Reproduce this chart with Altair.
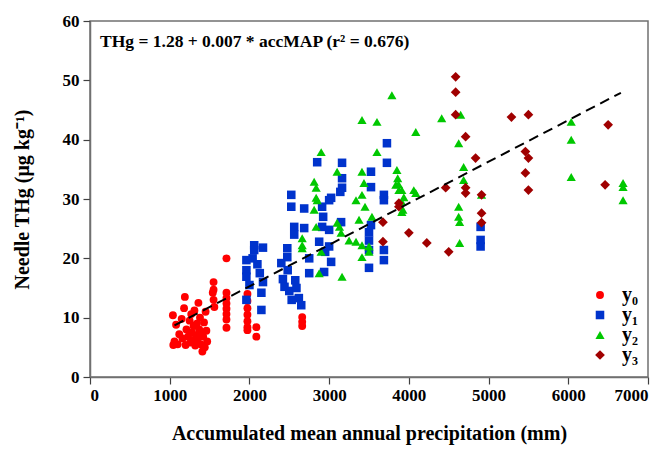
import altair as alt
import pandas as pd

# ---- data ----
y0_x = [1040, 1045, 1060, 1080, 1100, 1120, 1150, 1160, 1180, 1190, 1200, 1210, 1230, 1250, 1260,
        1270, 1280, 1290, 1300, 1310, 1320, 1330, 1340, 1350, 1360, 1370, 1380, 1390, 1400, 1410,
        1420, 1430, 1440, 1450, 1460, 1470, 1540, 1550, 1550, 1550, 1560, 1712, 1712, 1712, 1712,
        1712, 1712, 1712, 1712, 1975, 1975, 1975, 1975, 1975, 1975, 1975, 2087, 2087, 2662, 2662, 2662]
y0_y = [10.4, 5.4, 6.0, 8.8, 5.5, 7.2, 9.8, 6.5, 11.6, 13.5, 5.4, 8.0, 6.8, 9.5, 5.8,
        10.6, 7.5, 6.2, 8.6, 11.2, 5.3, 7.0, 9.0, 6.4, 12.5, 8.0, 10.0, 5.5, 7.4, 4.3,
        6.8, 9.2, 5.0, 11.0, 7.8, 6.0, 14.2, 16.0, 14.7, 13.0, 11.8, 20.0, 14.2, 13.3, 12.4,
        11.5, 10.6, 9.7, 8.3, 14.0, 12.8, 11.6, 10.5, 9.4, 8.4, 7.9, 8.4, 6.8, 10.1, 9.3, 8.6]

y1_x = [1962, 1962, 1962, 1962, 2000, 2060, 2060, 2040, 2100, 2150, 2150, 2130, 2170, 2170,
        2400, 2420, 2440, 2475, 2475, 2480, 2500, 2525, 2525, 2530, 2562, 2562, 2575, 2590, 2620,
        2650, 2687, 2687, 2750, 2750, 2850, 2875, 2912, 2925, 2912, 2937, 2950, 3000, 3000, 3000,
        3025, 3025, 3150, 3162, 3162, 3162, 3140, 3500, 3500, 3500, 3500, 3525, 3525, 3525,
        3687, 3687, 3687, 3687, 3725, 3725, 4900, 4900, 4900]
y1_y = [19.7, 18.0, 16.9, 13.0, 15.5, 22.2, 21.4, 20.0, 19.0, 14.2, 11.3, 17.5, 21.8, 16.0,
        19.2, 16.5, 15.2, 21.7, 20.2, 18.0, 14.5, 30.7, 28.7, 13.0, 25.3, 24.0, 16.3, 15.0, 13.3,
        12.1, 28.4, 25.1, 20.0, 17.5, 36.2, 22.8, 28.7, 27.0, 25.3, 17.7, 21.1, 29.8, 24.8, 22.0,
        30.2, 19.4, 26.1, 36.1, 33.5, 31.9, 31.2, 24.4, 23.0, 21.4, 18.4, 34.6, 32.0, 25.6,
        30.7, 29.8, 21.4, 19.7, 39.4, 36.1, 25.3, 23.1, 22.0]

y2_x = [2662, 2662, 2662, 2812, 2837, 2837, 2850, 2812, 2837, 2875, 2900, 2900, 3100, 3100,
        3130, 3150, 3162, 3250, 3337, 3375, 3412, 3412, 3412, 3437, 3450, 3337, 3412, 3500,
        3500, 3412, 3537, 3600, 3600, 3787, 3850, 3860, 3837, 3870, 3875, 3912, 3937, 3912,
        3925, 3912, 4062, 4087, 4087, 4412, 4625, 4650, 4687, 4687, 4625, 4625, 4637, 4637,
        4912, 6037, 6037, 6037, 6687, 6687, 6687]
y2_y = [23.4, 22.2, 21.7, 32.9, 31.9, 30.2, 29.8, 28.2, 25.3, 17.5, 37.9, 21.1, 34.6, 26.0,
        25.3, 24.3, 16.9, 23.0, 29.8, 26.5, 43.3, 34.6, 30.7, 32.7, 28.7, 22.8, 22.2, 22.0,
        21.1, 20.2, 27.0, 43.0, 37.9, 47.5, 34.9, 33.5, 32.4, 32.5, 31.5, 31.5, 30.3, 29.5,
        28.2, 27.8, 31.5, 41.3, 31.0, 43.6, 39.4, 44.2, 35.4, 33.2, 28.7, 27.0, 26.1, 22.6,
        30.7, 43.0, 40.0, 33.7, 32.7, 32.0, 29.8]

y3_x = [3675, 3675, 3875, 3875, 4000, 4225, 4462, 4500, 4587, 4587, 4587, 4712, 4712, 4712,
        4837, 4912, 4912, 4912, 5287, 5500, 5462, 5500, 5462, 5500, 6500, 6462]
y3_y = [26.1, 22.8, 29.3, 28.7, 24.3, 22.6, 31.9, 21.1, 50.6, 48.0, 44.2, 40.5, 31.9, 31.0,
        36.9, 30.7, 27.6, 26.0, 43.8, 44.2, 38.0, 36.9, 34.4, 31.5, 42.5, 32.4]

series_names = ["y₀", "y₁", "y₂", "y₃"]
series_colors = ["#FF0000", "#0033CC", "#00C800", "#A00000"]
series_shapes = ["circle", "square", "triangle-up", "diamond"]
series_sizes = [62, 95, 90, 125]

fit_x = [1060, 6660]
fit_y = [8.7, 47.9]

x_ticks = [0, 1000, 2000, 3000, 4000, 5000, 6000, 7000]
y_ticks = [0, 10, 20, 30, 40, 50, 60]

equation = "THg = 1.28 + 0.007 * accMAP (r² = 0.676)"

# ---- build tables ----
frames = []
for name, xs, ys in zip(series_names, [y0_x, y1_x, y2_x, y3_x], [y0_y, y1_y, y2_y, y3_y]):
    frames.append(pd.DataFrame({"accMAP": xs, "THg": ys, "series": name}))
pts = pd.concat(frames, ignore_index=True)
pts["order"] = pts["series"].map({n: i for i, n in enumerate(series_names)})

fit = pd.DataFrame({"accMAP": fit_x, "THg": fit_y})

FONT = "Liberation Serif"

xscale = alt.Scale(domain=[0, 7000], nice=False)
yscale = alt.Scale(domain=[0, 60], nice=False)

xaxis = alt.Axis(title="Accumulated mean annual precipitation (mm)", values=x_ticks,
                 grid=False, tickSize=7, labelPadding=3, titlePadding=20,
                 labelFontSize=17, titleFontSize=20, format="d")
yaxis = alt.Axis(title="Needle THg (μg kg⁻¹)", values=y_ticks,
                 grid=False, tickSize=7, labelPadding=4, titlePadding=30,
                 labelFontSize=17, titleFontSize=20)

leg = alt.Legend(title=None, orient="none", legendX=500, legendY=264,
                 labelFontSize=20, labelFont=FONT, labelFontWeight="bold",
                 symbolSize=75, rowPadding=0, labelOffset=12, symbolStrokeWidth=0)

points = alt.Chart(pts).mark_point(filled=True, opacity=1).encode(
    x=alt.X("accMAP:Q", scale=xscale, axis=xaxis),
    y=alt.Y("THg:Q", scale=yscale, axis=yaxis),
    color=alt.Color("series:N", scale=alt.Scale(domain=series_names, range=series_colors),
                    legend=leg),
    shape=alt.Shape("series:N", scale=alt.Scale(domain=series_names, range=series_shapes),
                    legend=leg),
    size=alt.Size("series:N", scale=alt.Scale(domain=series_names, range=series_sizes),
                  legend=None),
    order=alt.Order("order:Q"),
)

line = alt.Chart(fit).mark_line(color="black", strokeDash=[10, 6], strokeWidth=2).encode(
    x=alt.X("accMAP:Q", scale=xscale),
    y=alt.Y("THg:Q", scale=yscale),
)

eq = alt.Chart(pd.DataFrame({"t": [equation]})).mark_text(
    align="left", baseline="middle", font=FONT, fontSize=17.5, fontWeight="bold", color="black"
).encode(x=alt.value(10), y=alt.value(21), text="t:N")

chart = alt.layer(points, line, eq).properties(
    width=558, height=356,
    autosize=alt.AutoSizeParams(type="none"),
    padding={"left": 82, "top": 13, "right": 15, "bottom": 80},
).configure_view(stroke="#707070", strokeWidth=1.5).configure_axis(
    labelFont=FONT, titleFont=FONT, labelFontWeight="bold", titleFontWeight="bold",
    labelColor="black", titleColor="black", domainColor="#707070", tickColor="#404040",
    domainWidth=1.5, tickWidth=1.2
)

chart.save("out.html", embed_options={"renderer": "svg", "actions": False})
